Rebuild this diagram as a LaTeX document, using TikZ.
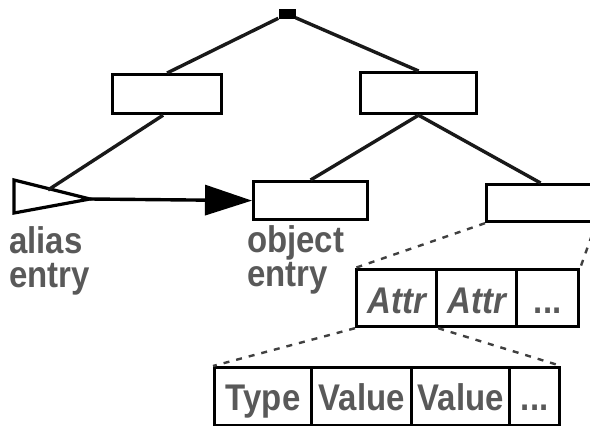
\documentclass[tikz,border=0pt]{standalone}
\usepackage{fontspec}
\setmainfont{Liberation Sans}
\usetikzlibrary{arrows.meta}
% tall bold lettering used throughout the figure
\newcommand\tallbold[1]{\scalebox{1.03}[1.16]{\fontsize{32}{28}\selectfont\bfseries #1}}
\newcommand\tallboldit[1]{\scalebox{1.03}[1.16]{\fontsize{32}{28}\selectfont\bfseries\itshape #1}}
\newcommand\twolines[2]{\scalebox{1.03}[1.16]{\fontsize{32}{28}\selectfont\bfseries
  \begin{tabular}{@{}l@{}}#1\\#2\end{tabular}}}
\begin{document}
\begin{tikzpicture}[x=1pt,y=-1pt,
  box/.style={draw=black,line width=3.2pt,fill=white,inner sep=0pt,anchor=north west},
  link/.style={draw=black!90,line width=3.4pt},
  dots/.style={draw=black!75,line width=2.4pt,dash pattern=on 6pt off 7pt},
  lbl/.style={text=black!65,inner sep=0pt,anchor=north west},
  cell/.style={text=black!65,inner sep=0pt,anchor=base}
]
\useasboundingbox (0,0) rectangle (590,426);

% root of the tree
\node[fill=black,minimum width=17pt,minimum height=10pt,inner sep=0pt] (root) at (287,14) {};

% tree entries
\node[box,minimum width=109pt,minimum height=39pt] (dirA) at (111,73) {};
\node[box,minimum width=116pt,minimum height=41pt] (dirB) at (359,71) {};
\node[box,minimum width=114pt,minimum height=38pt] (obj) at (252,180) {};
\node[box,minimum width=108pt,minimum height=37pt] (ent) at (485,183) {};

% alias entry: open triangle
\coordinate (aTL) at (14,180);
\coordinate (aBL) at (14,213);
\coordinate (aTip) at (90,199);
\coordinate (aIn) at (48,190);
\draw[line width=3.2pt,line join=miter,fill=white] (aTL) -- (aTip) -- (aBL) -- cycle;

% tree connectors
\draw[link] (root) -- (dirA.north);
\draw[link] (root) -- (dirB.north);
\draw[link] ([xshift=-4pt]dirA.south) -- (aIn);
\draw[link] (dirB.south) -- (obj.north);
\draw[link] (dirB.south) -- (ent.north);

% alias reference
\draw[line width=3.4pt,-{Triangle[length=47pt,width=30pt]}] (aTip) -- (obj.west);

% labels
\node[lbl] (aliasLbl) at (9,226) {\twolines{alias}{entry}};
\node[lbl] (objLbl) at (247,225) {\twolines{object}{entry}};

% attribute list
\node[box,minimum width=80pt,minimum height=57pt] (at1) at (355,268) {};
\node[box,minimum width=80pt,minimum height=57pt] (at2) at (435,268) {};
\node[box,minimum width=62pt,minimum height=57pt] (at3) at (515,268) {};
\node[cell] at ([yshift=15pt]at1.south) {\tallboldit{Attr}};
\node[cell] at ([yshift=15pt]at2.south) {\tallboldit{Attr}};
\node[cell] at ([yshift=15pt]at3.south) {\tallbold{...}};

% attribute value list
\node[box,minimum width=97pt,minimum height=58pt] (v1) at (213,366) {};
\node[box,minimum width=100pt,minimum height=58pt] (v2) at (310,366) {};
\node[box,minimum width=98pt,minimum height=58pt] (v3) at (410,366) {};
\node[box,minimum width=50pt,minimum height=58pt] (v4) at (508,366) {};
\node[cell] at ([yshift=17pt]v1.south) {\tallbold{Type}};
\node[cell] at ([yshift=17pt]v2.south) {\tallbold{Value}};
\node[cell] at ([yshift=17pt]v3.south) {\tallbold{Value}};
\node[cell] at ([yshift=17pt]v4.south) {\tallbold{...}};

% expansion guides
\draw[dots] (ent.south west) -- (at1.north west);
\draw[dots] (ent.south east) -- (at3.north east);
\draw[dots] (at1.south west) -- (v1.north west);
\draw[dots] (at1.south east) -- (v4.north east);
\end{tikzpicture}
\end{document}
